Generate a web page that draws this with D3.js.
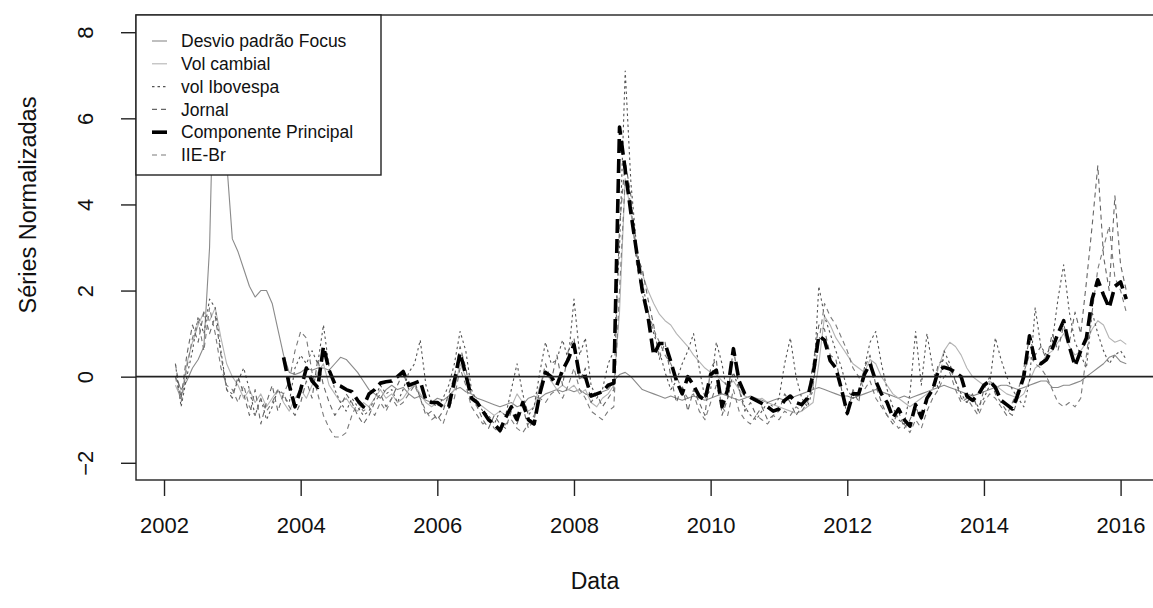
<!DOCTYPE html>
<html><head><meta charset="utf-8">
<script src="https://cdnjs.cloudflare.com/ajax/libs/d3/7.8.5/d3.min.js"></script>
<style>
html,body{margin:0;padding:0;background:#fff;}
svg{display:block;font-family:"Liberation Sans",Arial,sans-serif;}
</style></head>
<body><svg id="chart" width="1153" height="608"></svg>
<script>
// ---- DATA (monthly, Mar 2002 .. Feb 2016) ----
const startYear = 2002, startMonth = 3, nMonths = 168;
const xTicks = [2002, 2004, 2006, 2008, 2010, 2012, 2014, 2016];
const yTicks = [-2, 0, 2, 4, 6, 8];
const seriesNames = ["Desvio padrão Focus", "Vol cambial", "vol Ibovespa", "Jornal", "Componente Principal", "IIE-Br"];

const focus = [
  0.0, -0.3, -0.1, 0.2, 0.4, 0.7, 3.0, 8.5, 9.0, 5.0,
  3.2, 2.9, 2.5, 2.1, 1.85, 2.0, 2.0, 1.7, 1.1, 0.5, 0.1, 0.05,
  0.1, 0.2, 0.15, 0.2, 0.2, 0.15, 0.3, 0.45, 0.4, 0.25, 0.1, -0.1,
  -0.3, -0.4, -0.5, -0.3, -0.2, -0.3, -0.25, -0.4, -0.5, -0.45, -0.55, -0.6,
  -0.5, -0.55, -0.45, -0.3, -0.25, -0.35, -0.4, -0.5, -0.55, -0.6, -0.65, -0.7,
  -0.65, -0.6, -0.7, -0.65, -0.5, -0.45, -0.5, -0.4, -0.35, -0.3, -0.35, -0.3,
  -0.35, -0.3, -0.4, -0.45, -0.4, -0.35, -0.3, -0.1, 0.05, 0.1, 0.0, -0.15,
  -0.3, -0.35, -0.4, -0.45, -0.5, -0.45, -0.5, -0.55, -0.5, -0.45, -0.5, -0.55,
  -0.5, -0.45, -0.4, -0.45, -0.5, -0.55, -0.5, -0.45, -0.5, -0.55, -0.6, -0.55,
  -0.5, -0.55, -0.5, -0.45, -0.4, -0.35, -0.3, -0.25, -0.3, -0.35, -0.4, -0.45,
  -0.45, -0.5, -0.45, -0.4, -0.35, -0.3, -0.35, -0.4, -0.45, -0.5, -0.45, -0.5,
  -0.45, -0.4, -0.35, -0.3, -0.25, -0.2, -0.25, -0.3, -0.35, -0.4, -0.45, -0.4,
  -0.35, -0.3, -0.25, -0.2, -0.2, -0.25, -0.3, -0.25, -0.2, -0.15, -0.1, -0.1,
  -0.25, -0.25, -0.2, -0.2, -0.15, -0.1, 0.0, 0.1, 0.2, 0.3, 0.45, 0.5,
  0.35, 0.3
];
const volCambial = [
  -0.2, -0.5, 0.3, 0.8, 1.2, 1.5, 1.3, 1.6, 0.9, 0.3,
  0.0, -0.2, -0.5, -0.3, -0.6, -0.4, -0.7, -0.5, -0.3, -0.6, -0.8, -0.5,
  -0.3, -0.5, -0.2, 0.1, 0.3, -0.2, -0.4, -0.6, -0.5, -0.7, -0.8, -0.6,
  -0.7, -0.5, -0.3, -0.5, -0.4, -0.6, -0.5, -0.3, -0.2, -0.4, -0.6, -0.7,
  -0.6, -0.7, -0.5, -0.3, 0.3, 0.0, -0.4, -0.6, -0.7, -0.8, -0.9, -0.8,
  -0.9, -0.7, -0.4, -0.6, -0.8, -0.7, -0.2, 0.1, -0.1, -0.3, -0.2, -0.3,
  -0.2, -0.4, -0.3, -0.6, -0.7, -0.5, -0.4, -0.2, 1.5, 4.6, 3.8, 2.9,
  2.4, 2.0, 1.7, 1.45, 1.3, 1.2, 1.0, 0.85, 0.7, 0.5, 0.35, 0.2,
  0.1, 0.05, -0.1, -0.2, -0.1, -0.3, -0.45, -0.5, -0.55, -0.5, -0.6, -0.65,
  -0.7, -0.75, -0.8, -0.85, -0.8, -0.7, -0.6, 0.3, 1.4, 1.2, 0.9, 0.7,
  0.5, 0.3, 0.2, 0.1, 0.4, 0.3, 0.0, -0.2, -0.4, -0.5, -0.6, -0.7,
  -0.6, -0.5, -0.4, -0.3, 0.2, 0.6, 0.8, 0.7, 0.5, 0.2, 0.0, -0.1,
  -0.2, -0.1, -0.2, -0.3, -0.4, -0.45, -0.5, -0.4, -0.1, 0.2, 0.3, 0.5,
  0.6, 0.8, 1.0, 0.7, 0.5, 0.6, 0.8, 1.1, 1.3, 1.2, 0.9, 0.8,
  0.85, 0.75
];
const volIbovespa = [
  0.3, -0.7, 0.0, 0.6, 1.4, 1.0, 1.8, 1.6, 0.6, -0.3,
  -0.4, -0.1, 0.2, -0.3, -0.9, -0.5, -1.0, -0.7, -0.3, -0.5, -0.6, 0.2,
  0.5, 0.3, 0.6, 0.3, 1.2, 0.2, -0.3, -0.6, -0.8, -0.5, -0.7, -0.9,
  -0.8, -0.5, -0.2, -0.4, -0.3, -0.6, -0.3, 0.1, 0.3, 0.85, -0.2, -0.6,
  -0.7, -0.5, -0.2, 0.3, 1.05, 0.6, -0.3, -0.6, -0.8, -0.9, -1.1, -0.8,
  -0.9, -0.3, 0.3, -0.4, -0.9, -0.7, 0.1, 0.8, 0.3, 0.4, 0.85, 0.4,
  1.8, 0.5, 0.9, -0.2, -0.5, -0.3, 0.3, 0.6, 3.0, 7.1, 4.5, 3.0,
  2.2, 1.5, 1.0, 0.6, 0.1, -0.3, -0.1, 0.3, 0.6, 1.0, 0.2, -0.5,
  -0.3, 0.8, 0.3, -0.5, 0.1, -0.3, -0.7, -0.9, -1.0, -0.8, -0.6, -0.7,
  -0.5, 0.3, 0.9, 0.0, -0.5, -0.7, -0.3, 2.1, 1.4, 1.0, 0.6, 0.2,
  -0.3, -0.5, -0.4, 0.2, 0.8, 1.05, 0.3, -0.3, -0.7, -1.0, -1.1, -0.4,
  1.05, -0.2, 1.0, 0.2, -0.3, 0.6, 0.3, -0.1, -0.4, -0.6, -0.5, -0.7,
  -0.5, -0.2, 0.9, 0.4, 0.0, -0.3, -0.5, -0.7, -0.1, 1.6, 0.7, 0.5,
  0.8, 1.8, 2.6, 1.5, 0.8, 0.5, 0.2, 1.5, 1.0, 0.6, 0.3, 0.5,
  0.6, 0.4
];
const jornal = [
  0.3, -0.5, 0.5, 1.2, 0.8, 1.5, 1.0, 1.4, 0.5, -0.3,
  -0.5, 0.0, -0.4, -0.9, -0.3, -1.1, -0.6, -0.2, -0.8, -0.4, -0.7, -0.9,
  -0.6, -0.1, -0.5, 0.4, -0.2, -0.6, -0.9, -0.7, -0.4, -0.6, -0.9, -1.1,
  -0.9, -0.6, -0.4, -0.7, -0.5, -0.2, 0.1, -0.3, -0.1, -0.5, -0.9, -0.8,
  -1.0, -0.8, -0.4, 0.0, 0.7, 0.2, -0.5, -0.7, -1.0, -1.2, -0.9, -1.1,
  -1.2, -0.8, -1.1, -0.7, -1.2, -1.0, -0.3, 0.3, -0.1, 0.5, -0.2, 0.6,
  0.9, -0.1, 0.2, -0.6, -0.4, -0.7, -0.5, -0.3, 3.5, 5.0, 4.2, 2.8,
  2.5, 1.8, 1.2, 0.4, 0.8, 0.0, -0.6, -0.2, -0.8, -0.3, -0.6, -0.9,
  0.2, 0.4, -0.9, -0.5, 0.7, -0.3, -0.8, -0.6, -0.9, -0.7, -1.0, -0.9,
  -0.8, -0.4, -0.6, -0.9, -0.7, -0.5, 0.3, 1.2, 1.1, 0.5, 0.4, -0.3,
  -0.9, -0.3, -0.6, 0.2, 0.5, -0.2, -0.6, -0.9, -1.1, -0.8, -1.2, -1.0,
  -0.7, -1.0, -0.6, -0.3, 0.3, 0.4, 0.2, -0.1, -0.5, -0.6, -0.4, -0.8,
  -0.3, 0.0, -0.4, -0.6, -0.8, -0.9, -0.5, 0.2, 0.9, 0.5, 0.7, 0.4,
  1.0, 0.6, 1.2, 0.8, 1.5, 1.0, 2.2, 3.5, 4.9, 2.8, 2.0, 4.2,
  2.6, 2.0
];
const componente = [
  null, null, null, null, null, null, null, null, null, null,
  null, null, null, null, null, null, null, null, null, 0.45, -0.2, -0.7,
  -0.3, 0.2, -0.1, -0.25, 0.7, 0.15, -0.17, -0.22, -0.3, -0.35, -0.55, -0.7,
  -0.4, -0.3, -0.15, -0.12, -0.1, 0.0, 0.12, -0.2, -0.15, -0.1, -0.55, -0.6,
  -0.6, -0.7, -0.7, -0.1, 0.55, 0.05, -0.5, -0.6, -0.8, -1.0, -1.1, -1.25,
  -0.95, -0.7, -1.0, -0.6, -1.0, -1.1, -0.4, 0.1, 0.0, -0.2, 0.15, 0.4,
  0.75, 0.0, 0.0, -0.45, -0.4, -0.35, -0.2, -0.15, 5.8, 4.8, 3.8, 2.9,
  2.0, 1.4, 0.5, 0.77, 0.77, 0.35, -0.1, -0.4, 0.0, -0.2, -0.45, -0.55,
  0.05, 0.15, -0.7, -0.3, 0.65, -0.1, -0.4, -0.48, -0.55, -0.62, -0.7, -0.8,
  -0.75, -0.55, -0.45, -0.6, -0.65, -0.5, 0.05, 0.95, 0.85, 0.37, 0.2, -0.3,
  -0.85, -0.4, -0.4, 0.05, 0.3, -0.1, -0.4, -0.6, -0.95, -0.75, -1.0, -1.15,
  -0.65, -0.95, -0.5, -0.3, 0.15, 0.22, 0.18, 0.1, 0.0, -0.45, -0.55, -0.42,
  -0.2, -0.1, -0.25, -0.55, -0.65, -0.75, -0.4, 0.0, 0.95, 0.35, 0.3, 0.4,
  0.65, 1.0, 1.3, 0.7, 0.25, 0.6, 0.9, 1.8, 2.25, 1.9, 1.6, 2.1,
  2.2, 1.8
];
const iieBr = [
  0.0, -0.6, 0.2, 0.9, 1.3, 0.6, 1.6, 1.0, 0.2, -0.2,
  -0.3, -0.6, -0.2, -0.7, -0.9, -0.5, -0.8, -0.6, -0.3, -0.4, -0.1, 0.6,
  1.05, 0.9, 0.1, -0.4, -0.9, -1.2, -1.4, -1.4, -1.3, -0.9, -0.6, -0.8,
  -0.7, -0.9, -0.6, -0.8, -0.5, -0.7, -0.6, -0.4, -0.2, -0.5, -0.8, -1.0,
  -0.9, -1.1, -0.7, -0.5, 0.2, -0.2, -0.7, -0.9, -1.1, -1.0, -1.2, -1.3,
  -1.1, -1.0, -1.2, -1.3, -1.1, -0.9, -0.5, -0.6, -0.4, -0.3, -0.5, -0.2,
  0.2, -0.3, -0.5, -0.8, -0.9, -1.0, -0.8, -0.7, 2.0, 4.6, 4.0, 2.6,
  1.9, 1.5, 1.1, 0.8, 0.5, 0.3, 0.0, -0.3, -0.5, -0.4, -0.8, -1.0,
  -0.6, -0.2, -0.7, -0.9, -0.3, -0.8, -1.0, -1.1, -0.9, -1.0, -1.1, -0.9,
  -1.0, -0.8, -0.9, -0.7, -0.8, -0.6, -0.2, 0.8, 1.7, 1.4, 1.2, 0.9,
  0.6, 0.2, 0.0, -0.3, -0.1, -0.5, -0.7, -0.9, -1.0, -1.2, -1.1, -1.3,
  -1.0, -1.2, -0.8, -0.5, -0.3, 0.0, 0.1, -0.3, -0.6, -0.5, -0.7, -0.9,
  -0.6, -0.4, -0.5, -0.7, -0.9, -0.6, -0.3, 0.1, 0.5, 0.3, 0.2, 0.0,
  -0.3, -0.6, -0.7, -0.6, -0.7, -0.5, 0.5, 1.5, 2.5, 3.0, 3.5, 2.3,
  2.0, 1.5
];

// ---- LAYOUT ----
const plot = {left: 136, top: 15, right: 1165, bottom: 480};
const svg = d3.select("#chart");
const FONT = "'Liberation Sans', Arial, sans-serif";

const times = d3.range(nMonths).map(i => startYear + (startMonth - 1 + i) / 12);

const x = d3.scaleLinear().domain([2001.59, 2016.65]).range([plot.left, plot.right]);
const y = d3.scaleLinear().domain([-2.4, 8.4]).range([plot.bottom, plot.top]);

svg.append("defs").append("clipPath").attr("id", "clip")
  .append("rect").attr("x", plot.left).attr("y", plot.top)
  .attr("width", plot.right - plot.left).attr("height", plot.bottom - plot.top);

const styles = [
  {data: focus,       color: "#8a8a8a", width: 1.1, dash: null},
  {data: volCambial,  color: "#b4b4b4", width: 1.1, dash: null},
  {data: volIbovespa, color: "#555555", width: 1.1, dash: "2.5,3"},
  {data: jornal,      color: "#666666", width: 1.1, dash: "5,4"},
  {data: componente,  color: "#000000", width: 3.6, dash: "14,6"},
  {data: iieBr,       color: "#7a7a7a", width: 1.1, dash: "5,4"}
];

const line = d3.line()
  .defined(d => d.v !== null)
  .x(d => x(d.t)).y(d => y(d.v));

const g = svg.append("g").attr("clip-path", "url(#clip)");
[0, 1, 2, 3, 5, 4].forEach(k => {
  const s = styles[k];
  g.append("path")
    .datum(s.data.map((v, i) => ({t: times[i], v: v})))
    .attr("fill", "none")
    .attr("stroke", s.color)
    .attr("stroke-width", s.width)
    .attr("stroke-dasharray", s.dash)
    .attr("stroke-linejoin", "round")
    .attr("d", line);
});

g.append("line")
  .attr("x1", plot.left).attr("x2", plot.right)
  .attr("y1", y(0)).attr("y2", y(0))
  .attr("stroke", "#222").attr("stroke-width", 1.6);

svg.append("rect")
  .attr("x", plot.left).attr("y", plot.top)
  .attr("width", plot.right - plot.left).attr("height", plot.bottom - plot.top)
  .attr("fill", "none").attr("stroke", "#222").attr("stroke-width", 1.4);

// x axis
const xAxis = d3.axisBottom(x).tickValues(xTicks).tickSize(16).tickPadding(21)
  .tickFormat(d3.format("d"));
const gx = svg.append("g").attr("transform", `translate(0,${plot.bottom})`).call(xAxis);
gx.select(".domain").remove();
gx.selectAll("line").attr("stroke", "#222").attr("stroke-width", 1.4);
gx.selectAll("text").attr("font-size", 22).attr("fill", "#111").attr("font-family", FONT);

// y axis
const yAxis = d3.axisLeft(y).tickValues(yTicks).tickSize(15).tickPadding(0)
  .tickFormat(d3.format("d"));
const gy = svg.append("g").attr("transform", `translate(${plot.left},0)`).call(yAxis);
gy.select(".domain").remove();
gy.selectAll("line").attr("stroke", "#222").attr("stroke-width", 1.4);
gy.selectAll("text")
  .attr("x", 0).attr("dy", null)
  .attr("font-size", 22).attr("fill", "#111").attr("font-family", FONT)
  .attr("text-anchor", "middle")
  .attr("dominant-baseline", "central")
  .attr("transform", "translate(-51,0) rotate(-90)");

// axis titles
svg.append("text").attr("x", 595).attr("y", 589)
  .attr("text-anchor", "middle").attr("font-size", 23).attr("fill", "#111")
  .attr("font-family", FONT).text("Data");
svg.append("text")
  .attr("transform", `translate(36,205) rotate(-90)`)
  .attr("text-anchor", "middle").attr("font-size", 23.5).attr("fill", "#111")
  .attr("font-family", FONT).text("Séries Normalizadas");

// legend
const leg = svg.append("g");
leg.append("rect").attr("x", plot.left).attr("y", plot.top)
  .attr("width", 381 - plot.left).attr("height", 175 - plot.top)
  .attr("fill", "#fff").attr("stroke", "#222").attr("stroke-width", 1.4);
const legY0 = 41, legStep = 22.8;
seriesNames.forEach((name, k) => {
  const s = styles[k];
  const yy = legY0 + k * legStep;
  leg.append("line").attr("x1", 152).attr("x2", 167).attr("y1", yy).attr("y2", yy)
    .attr("stroke", s.color).attr("stroke-width", s.width)
    .attr("stroke-dasharray", k === 4 ? null : s.dash);
  leg.append("text").attr("x", 181).attr("y", yy).attr("dy", "0.35em")
    .attr("font-size", 17.5).attr("fill", "#111").attr("font-family", FONT).text(name);
});
</script>
</body></html>
